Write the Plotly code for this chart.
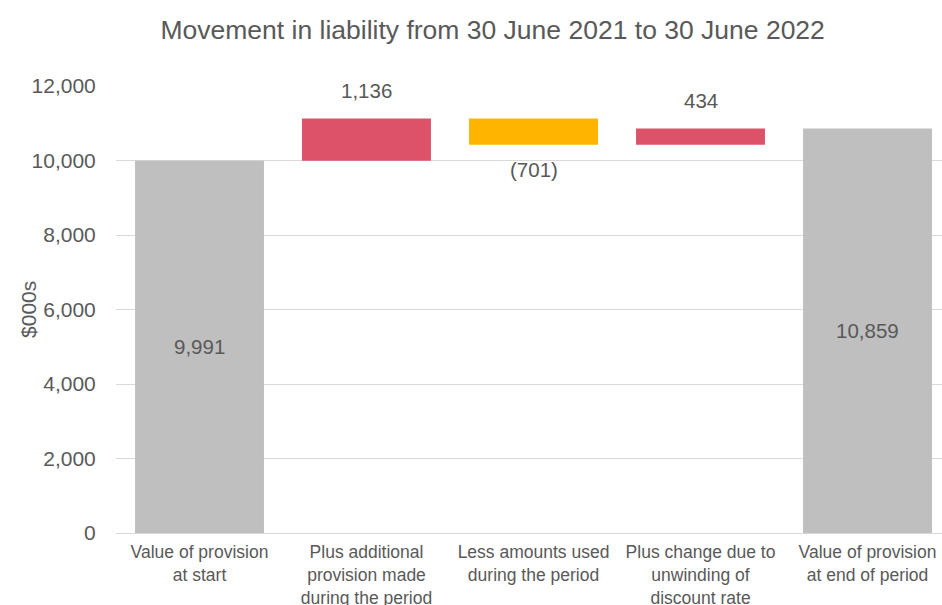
import plotly.graph_objects as go

categories = [
    "Value of provision<br>at start",
    "Plus additional<br>provision made<br>during the period",
    "Less amounts used<br>during the period",
    "Plus change due to<br>unwinding of<br>discount rate",
    "Value of provision<br>at end of period",
]
values = [9991, 1136, -701, 434, 10859]
measures = ["absolute", "relative", "relative", "relative", "absolute"]
value_labels = ["9,991", "1,136", "(701)", "434", "10,859"]
y_ticks = [0, 2000, 4000, 6000, 8000, 10000, 12000]
y_tick_labels = ["0", "2,000", "4,000", "6,000", "8,000", "10,000", "12,000"]

FONT = "Liberation Sans, Arial, sans-serif"
TXT = "#595959"

fig = go.Figure(go.Waterfall(
    x=categories,
    y=values,
    measure=measures,
    width=[0.772] * len(values),
    increasing=dict(marker=dict(color="#DC5369")),
    decreasing=dict(marker=dict(color="#FFB400")),
    totals=dict(marker=dict(color="#BFBFBF")),
    connector=dict(visible=False),
    textposition="none",
    hoverinfo="skip",
))

# label annotations positioned from data
annotations = []
running = 0
for i, (v, m, lab) in enumerate(zip(values, measures, value_labels)):
    if m == "absolute":
        start, end = 0, v
        running = v
        annotations.append(dict(x=i, y=(start + end) / 2, text=lab, showarrow=False,
                                yanchor="middle", font=dict(size=20.5, color=TXT, family=FONT)))
    else:
        start, end = running, running + v
        running = end
        annotations.append(dict(x=i, y=end, text=lab, showarrow=False, yanchor="middle",
                                yshift=28 if v > 0 else -25,
                                font=dict(size=20.5, color=TXT, family=FONT)))

# y-axis title
annotations.append(dict(xref="paper", yref="paper", x=-0.106, y=0.5, text="$000s",
                        textangle=-90, showarrow=False, xanchor="center", yanchor="middle",
                        font=dict(size=21, color=TXT, family=FONT)))

fig.update_layout(
    width=942, height=605,
    margin=dict(l=116, r=0, t=86, b=72, autoexpand=False),
    paper_bgcolor="white", plot_bgcolor="white",
    showlegend=False,
    title=dict(text="Movement in liability from 30 June 2021 to 30 June 2022",
               x=0.523, xanchor="center", y=0.951, yanchor="middle",
               font=dict(size=26.5, color=TXT, family=FONT)),
    font=dict(family=FONT, color=TXT),
    annotations=annotations,
)
fig.update_xaxes(
    range=[-0.5, 4.446], showgrid=False, showline=True, linecolor="#D9D9D9", linewidth=1,
    tickfont=dict(size=17.5, color=TXT, family=FONT), ticks="outside", ticklen=3, tickcolor="white",
    automargin=False,
)
fig.update_yaxes(
    range=[0, 12000], tickvals=y_ticks, ticktext=y_tick_labels,
    showgrid=True, gridcolor="#D9D9D9", gridwidth=1, zeroline=False,
    tickfont=dict(size=21, color=TXT, family=FONT),
    ticks="outside", ticklen=15, tickcolor="white",
    automargin=False,
)

fig.write_html("out.html", config={"displayModeBar": False},
               post_script="document.body.style.margin='0px';")
